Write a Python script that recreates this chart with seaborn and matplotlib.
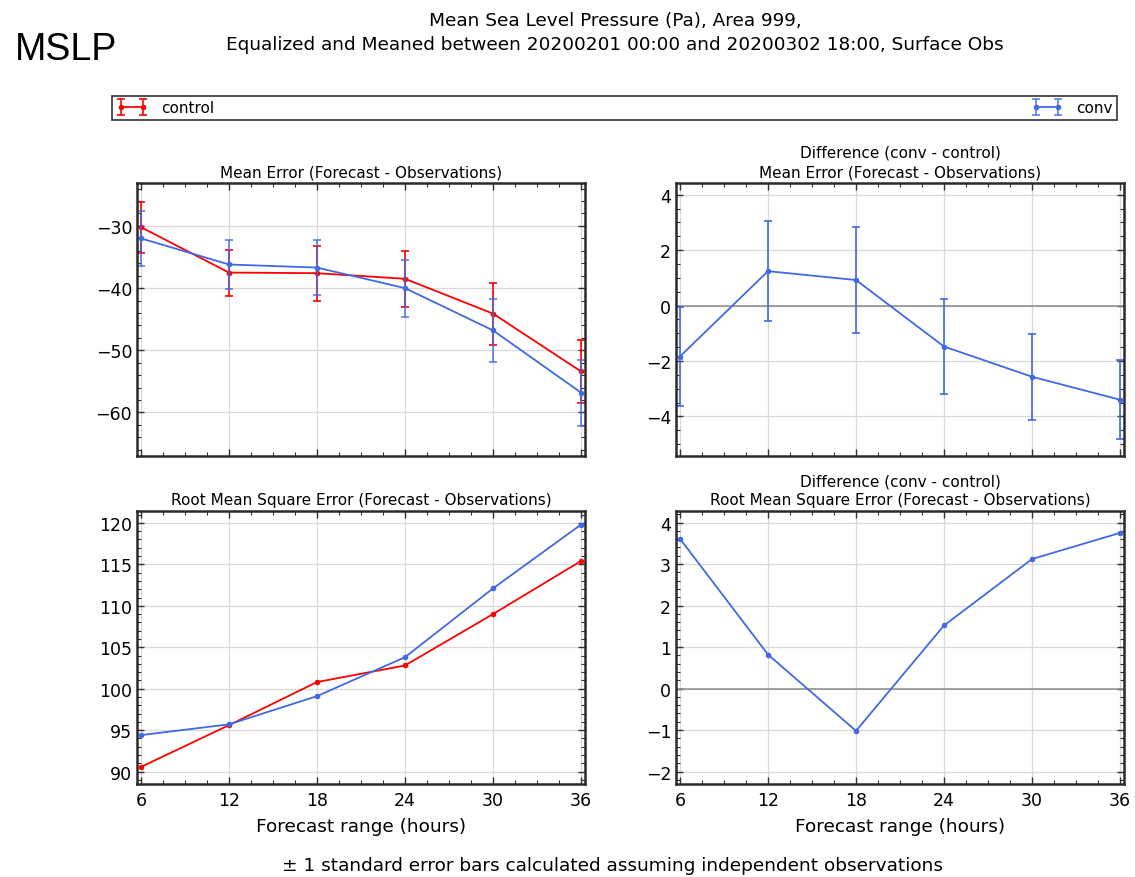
import matplotlib
matplotlib.use("Agg")
import matplotlib.pyplot as plt
import seaborn as sns
import pandas as pd
from matplotlib.ticker import AutoMinorLocator
from matplotlib.legend_handler import HandlerTuple

# ---------------- data ----------------
lead = [6, 12, 18, 24, 30, 36]
x_ticks = [6, 12, 18, 24, 30, 36]

me_control = [-30.2, -37.5, -37.6, -38.5, -44.1, -53.4]
me_control_se = [4.1, 3.7, 4.4, 4.5, 5.0, 5.0]
me_conv = [-32.0, -36.2, -36.7, -40.0, -46.8, -56.8]
me_conv_se = [4.4, 3.9, 4.4, 4.6, 5.1, 5.3]

me_diff = [-1.84, 1.24, 0.92, -1.48, -2.57, -3.40]
me_diff_se = [1.77, 1.81, 1.92, 1.73, 1.56, 1.42]

rmse_control = [90.56, 95.6, 100.8, 102.8, 109.0, 115.4]
rmse_conv = [94.4, 95.7, 99.1, 103.8, 112.1, 119.8]
rmse_diff = [3.61, 0.82, -1.02, 1.52, 3.12, 3.75]

RED = "#ff0000"
BLUE = "#4169e1"

sns.set_style("white")
plt.rcParams.update({
    "font.family": ["DejaVu Sans"],
    "text.color": "black", "axes.labelcolor": "black",
    "xtick.direction": "in", "ytick.direction": "in",
    "xtick.top": True, "ytick.right": True,
    "xtick.bottom": True, "ytick.left": True,
    "xtick.major.size": 5, "ytick.major.size": 5,
    "xtick.minor.size": 3, "ytick.minor.size": 3,
    "xtick.major.width": 1.0, "ytick.major.width": 1.0,
    "xtick.minor.width": 0.8, "ytick.minor.width": 0.8,
    "xtick.labelsize": 12.5, "ytick.labelsize": 12.5,
    "xtick.color": "#333333", "ytick.color": "#333333",
    "xtick.labelcolor": "black", "ytick.labelcolor": "black",
})

fig = plt.figure(figsize=(11.35, 8.78), dpi=100)
L1, R1 = 0.1207, 0.5154
L2, R2 = 0.5956, 0.9903
T1, B1 = 0.7904, 0.4795
T2, B2 = 0.4165, 0.1059
ax_tl = fig.add_axes([L1, B1, R1 - L1, T1 - B1])
ax_tr = fig.add_axes([L2, B1, R2 - L2, T1 - B1])
ax_bl = fig.add_axes([L1, B2, R1 - L1, T2 - B2])
ax_br = fig.add_axes([L2, B2, R2 - L2, T2 - B2])

line_kw = dict(marker="o", markersize=4, markeredgewidth=0, linewidth=1.3)
err_kw = dict(fmt="none", elinewidth=1.2, capsize=2.8, capthick=1.2)


def line(ax, y, color):
    df = pd.DataFrame({"lead": lead, "val": y})
    sns.lineplot(data=df, x="lead", y="val", ax=ax, color=color, legend=False, **line_kw)
    return ax.lines[-1]


def style(ax, ylim, xlabels):
    ax.set_xlim(5.73, 36.27)
    ax.set_ylim(*ylim)
    ax.set_xticks(x_ticks)
    ax.xaxis.set_minor_locator(AutoMinorLocator(4))
    ax.yaxis.set_minor_locator(AutoMinorLocator())
    ax.tick_params(which="both", top=True, right=True, bottom=True, left=True, direction="in")
    ax.tick_params(axis="x", pad=5)
    ax.grid(True, which="major", color="#d9d9d9", linewidth=0.9)
    ax.set_axisbelow(True)
    for s in ax.spines.values():
        s.set_linewidth(1.8)
        s.set_color("#2a2a2a")
    ax.set_ylabel("")
    if xlabels:
        ax.set_xlabel("Forecast range (hours)", fontsize=13.3, labelpad=6)
    else:
        ax.set_xlabel("")
        ax.set_xticklabels([])


TFS = 11

# top-left: mean error
e_ctrl = ax_tl.errorbar(lead, me_control, yerr=me_control_se, ecolor=RED, **err_kw)
l_ctrl = line(ax_tl, me_control, RED)
e_conv = ax_tl.errorbar(lead, me_conv, yerr=me_conv_se, ecolor=BLUE, alpha=0.85, **err_kw)
l_conv = line(ax_tl, me_conv, BLUE)
style(ax_tl, (-67, -23.1), False)
ax_tl.set_yticks([-30, -40, -50, -60])
ax_tl.set_title("Mean Error (Forecast - Observations)", fontsize=TFS, pad=5)

# top-right: difference in mean error
ax_tr.axhline(0, color="#8c8c8c", linewidth=1.1, zorder=1)
ax_tr.errorbar(lead, me_diff, yerr=me_diff_se, ecolor=BLUE, **err_kw)
line(ax_tr, me_diff, BLUE)
style(ax_tr, (-5.43, 4.42), False)
ax_tr.set_yticks([-4, -2, 0, 2, 4])
ax_tr.set_title("Difference (conv - control)\nMean Error (Forecast - Observations)",
                fontsize=TFS, pad=5, linespacing=1.35)

# bottom-left: RMSE
line(ax_bl, rmse_control, RED)
line(ax_bl, rmse_conv, BLUE)
style(ax_bl, (88.5, 121.4), True)
ax_bl.set_yticks([90, 95, 100, 105, 110, 115, 120])
ax_bl.set_title("Root Mean Square Error (Forecast - Observations)", fontsize=TFS, pad=5)

# bottom-right: difference in RMSE
ax_br.axhline(0, color="#8c8c8c", linewidth=1.1, zorder=1)
line(ax_br, rmse_diff, BLUE)
style(ax_br, (-2.3, 4.27), True)
ax_br.set_yticks([-2, -1, 0, 1, 2, 3, 4])
ax_br.set_title("Difference (conv - control)\nRoot Mean Square Error (Forecast - Observations)",
                fontsize=TFS, pad=5, linespacing=1.35)

# legend across the top
leg = fig.legend([(e_ctrl, l_ctrl), (e_conv, l_conv)], ["control", "conv"],
                 handler_map={tuple: HandlerTuple(ndivide=1)},
                 loc="lower left", mode="expand", ncol=2, numpoints=2,
                 bbox_to_anchor=(112 / 1135, 1 - 121 / 878, (1117 - 112) / 1135, 28 / 878),
                 borderaxespad=0, fancybox=False, frameon=True, fontsize=11,
                 handlelength=2.0, handletextpad=0.9, borderpad=0.3)
leg.get_frame().set_edgecolor("black")
leg.get_frame().set_linewidth(1.2)

fig.text(615 / 1135, 1 - 33 / 878,
         "Mean Sea Level Pressure (Pa), Area 999,\n"
         "Equalized and Meaned between 20200201 00:00 and 20200302 18:00, Surface Obs",
         ha="center", va="center", fontsize=13.3, linespacing=1.45)
fig.text(15 / 1135, 1 - 50 / 878, "MSLP", ha="left", va="center", fontsize=27,
         family=["Liberation Sans", "DejaVu Sans"])
fig.text(612 / 1135, 1 - 866 / 878,
         "\u00b1 1 standard error bars calculated assuming independent observations",
         ha="center", va="center", fontsize=13.3)

fig.savefig("out.png", dpi=100)
